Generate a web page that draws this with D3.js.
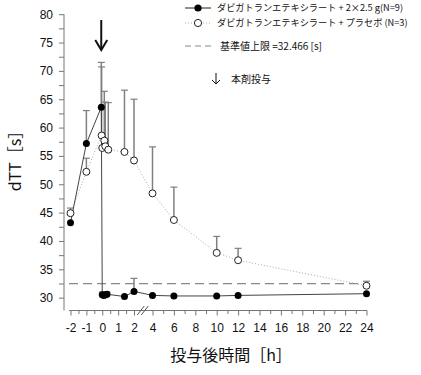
<!DOCTYPE html>
<html><head><meta charset="utf-8">
<script src="https://cdn.jsdelivr.net/npm/d3@7/dist/d3.min.js"></script>
<style>
html,body{margin:0;padding:0;background:#fff;}
svg{display:block;}
</style></head>
<body>
<svg id="chart" width="421" height="375"></svg>
<script>
// ---- data ----
const filledTime  = [-2, -1, -0.06, 0.0, 0.1, 0.2, 0.3, 1.4, 2, 4, 6, 10, 12, 24];
const filledValue = [43.2, 57.2, 63.6, 30.5, 30.4, 30.5, 30.6, 30.2, 31.1, 30.4, 30.3, 30.3, 30.4, 30.7];
const filledErrTop = [null, 63.0, 71.5, 31.0, 30.9, 31.0, 31.0, null, 33.4, null, null, null, null, null];

const openTime  = [-2, -1, -0.04, 0.0, 0.13, 0.19, 0.38, 1.4, 2, 4, 6, 10, 12, 24];
const openValue = [44.9, 52.2, 58.6, 56.4, 57.7, 56.7, 56.1, 55.7, 54.2, 48.4, 43.7, 37.9, 36.6, 32.1];
const openErrTop = [45.8, 54.6, 70.7, null, 66.4, 64.5, 64.4, 66.6, 65.0, 56.6, 49.5, 40.8, 38.7, 32.9];

const upperLimit = 32.466;
const yTicks = [30, 35, 40, 45, 50, 55, 60, 65, 70, 75, 80];
const xTickLabels = [-2, -1, 0, 1, 2, 4, 6, 8, 10, 12, 14, 16, 18, 20, 22, 24];
const legendLabels = [
  "ダビガトランエテキシラート + 2×2.5 g(N=9)",
  "ダビガトランエテキシラート +  プラセボ (N=3)",
  "基準値上限  =32.466 [s]",
  "本剤投与"
];

// ---- scales ----
const svg = d3.select("#chart");
const x = d3.scaleLinear().domain([-2, 2, 4, 24]).range([70.5, 134, 152.5, 366.5]);
const y = d3.scaleLinear().domain([28, 80]).range([309, 14.2]);
const font = "'Liberation Sans', Arial, sans-serif";
const jfont = "'Noto Sans CJK JP', sans-serif";
const axisCol = "#777";

// ---- y axis ----
const yMinor = d3.range(27.5, 80.01, 2.5).filter(v => v >= 28);
const yAxisG = svg.append("g").attr("transform", "translate(64,0)");
yAxisG.call(d3.axisLeft(y).tickValues(yMinor).tickSize(5)
  .tickFormat(d => yTicks.includes(d) ? d : ""));
yAxisG.select(".domain").attr("d", `M0,${y(80)}V310.5`).attr("stroke", axisCol);
yAxisG.selectAll(".tick line").attr("stroke", axisCol);
yAxisG.selectAll(".tick text").attr("font-family", font).attr("font-size", 12)
  .attr("fill", "#111").attr("x", -11);

// ---- x axis ----
const xMinor = d3.range(-2, 2.01, 0.5).concat(d3.range(4, 24.01, 1));
const xAxisG = svg.append("g").attr("transform", "translate(0,310.5)");
xAxisG.call(d3.axisBottom(x).tickValues(xMinor).tickSize(5)
  .tickFormat(d => xTickLabels.includes(d) ? d : ""));
xAxisG.select(".domain").attr("d", `M69,0H${x(24)+0.5}`).attr("stroke", axisCol);
xAxisG.selectAll(".tick line").attr("stroke", axisCol)
  .attr("y2", d => xTickLabels.includes(d) ? 5 : 3.5);
xAxisG.selectAll(".tick text").attr("font-family", font).attr("font-size", 12)
  .attr("fill", "#111").attr("y", 13);
// axis break marks
const bx = (x(2) + x(4)) / 2;
[-3, 1].forEach(o => {
  svg.append("line").attr("x1", bx + o - 3).attr("y1", 315).attr("x2", bx + o + 4).attr("y2", 306)
    .attr("stroke", "#555").attr("stroke-width", 1);
});

// ---- reference line ----
svg.append("line").attr("x1", 69).attr("x2", x(24) - 2)
  .attr("y1", y(upperLimit)).attr("y2", y(upperLimit))
  .attr("stroke", "#888").attr("stroke-width", 1.3).attr("stroke-dasharray", "9,5");

// ---- error bars ----
function errBars(times, vals, tops, col) {
  times.forEach((t, i) => {
    if (tops[i] == null) return;
    const cx = x(t);
    svg.append("line").attr("x1", cx).attr("x2", cx).attr("y1", y(vals[i])).attr("y2", y(tops[i]))
      .attr("stroke", col).attr("stroke-width", 1.5);
    svg.append("line").attr("x1", cx - 3.5).attr("x2", cx + 3.5).attr("y1", y(tops[i])).attr("y2", y(tops[i]))
      .attr("stroke", col).attr("stroke-width", 1.2);
  });
}
errBars(openTime, openValue, openErrTop, "#808080");
errBars(filledTime, filledValue, filledErrTop, "#808080");

// ---- lines ----
const line = d3.line().x(d => x(d[0])).y(d => y(d[1]));
svg.append("path").datum(openTime.map((t, i) => [t, openValue[i]]))
  .attr("d", line).attr("fill", "none").attr("stroke", "#aaa").attr("stroke-width", 1)
  .attr("stroke-dasharray", "1,2");
svg.append("path").datum(filledTime.map((t, i) => [t, filledValue[i]]))
  .attr("d", line).attr("fill", "none").attr("stroke", "#444").attr("stroke-width", 1);

// ---- points ----
svg.append("g").selectAll("circle").data(openTime.map((t, i) => [t, openValue[i]])).join("circle")
  .attr("cx", d => x(d[0])).attr("cy", d => y(d[1])).attr("r", 3.5)
  .attr("fill", "#fff").attr("stroke", "#222").attr("stroke-width", 1);
svg.append("g").selectAll("circle").data(filledTime.map((t, i) => [t, filledValue[i]])).join("circle")
  .attr("cx", d => x(d[0])).attr("cy", d => y(d[1])).attr("r", 3.5)
  .attr("fill", "#000");

// ---- dosing arrow ----
const ax = x(0) - 1;
svg.append("line").attr("x1", ax).attr("x2", ax).attr("y1", 20).attr("y2", 49)
  .attr("stroke", "#111").attr("stroke-width", 2);
svg.append("path").attr("d", `M${ax-6},${40}L${ax},${50}L${ax+6},${40}`)
  .attr("fill", "none").attr("stroke", "#111").attr("stroke-width", 2);

// ---- axis titles ----
svg.append("text").attr("transform", "translate(21,157) rotate(-90)")
  .attr("text-anchor", "middle").attr("font-family", jfont).attr("font-size", 16)
  .attr("fill", "#111").text("dTT［s］");
svg.append("text").attr("x", 231).attr("y", 361)
  .attr("text-anchor", "middle").attr("font-family", jfont).attr("font-size", 16)
  .attr("fill", "#111").text("投与後時間［h］");

// ---- legend ----
const lg = svg.append("g");
const rowY = [8, 23, 46, 79];
lg.append("line").attr("x1", 185).attr("x2", 211).attr("y1", rowY[0]).attr("y2", rowY[0])
  .attr("stroke", "#222").attr("stroke-width", 1);
lg.append("circle").attr("cx", 198).attr("cy", rowY[0]).attr("r", 3.6).attr("fill", "#000");
lg.append("line").attr("x1", 185).attr("x2", 211).attr("y1", rowY[1]).attr("y2", rowY[1])
  .attr("stroke", "#aaa").attr("stroke-width", 1).attr("stroke-dasharray", "1,2");
lg.append("circle").attr("cx", 198).attr("cy", rowY[1]).attr("r", 3.6)
  .attr("fill", "#fff").attr("stroke", "#222");
lg.append("line").attr("x1", 185).attr("x2", 211).attr("y1", rowY[2]).attr("y2", rowY[2])
  .attr("stroke", "#888").attr("stroke-width", 1.2).attr("stroke-dasharray", "6,4");
lg.append("line").attr("x1", 216).attr("x2", 216).attr("y1", rowY[3] - 6).attr("y2", rowY[3] + 5)
  .attr("stroke", "#111").attr("stroke-width", 1);
lg.append("path").attr("d", `M212,${rowY[3]+1}L216,${rowY[3]+5}L220,${rowY[3]+1}`)
  .attr("fill", "none").attr("stroke", "#111").attr("stroke-width", 1);
const lx = [217, 217, 220, 231];
const lfs = [9.2, 9.2, 10, 10];
legendLabels.forEach((t, i) => {
  lg.append("text").attr("x", lx[i]).attr("y", rowY[i]).attr("dy", "0.35em")
    .attr("font-family", jfont).attr("font-size", lfs[i]).attr("fill", "#111").text(t);
});
</script>
</body></html>
